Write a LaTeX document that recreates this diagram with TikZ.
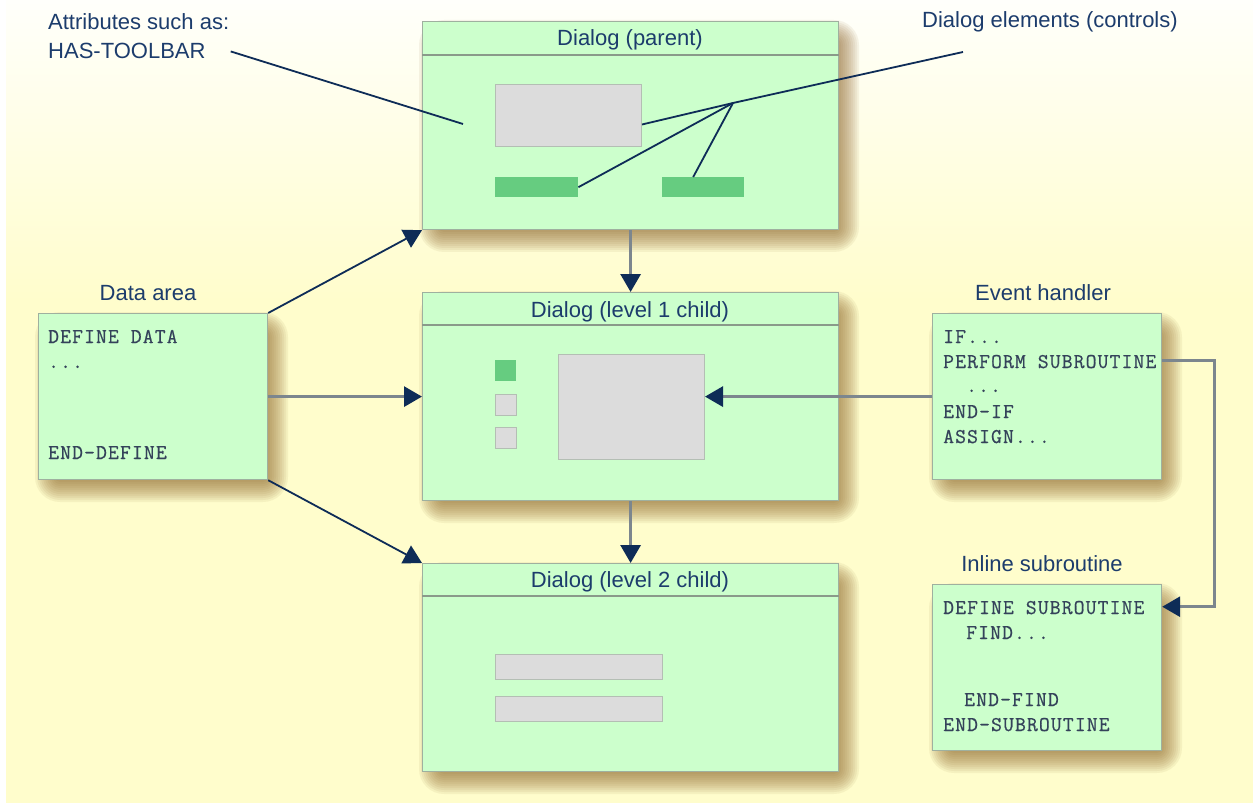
\documentclass[tikz,border=0pt]{standalone}
\usepackage{fontspec}
\setmainfont{Liberation Sans}
\newfontfamily\codefont{Latin Modern Mono}[LetterSpace=5.5,FakeBold=0.6]
\usetikzlibrary{arrows.meta,calc}
\definecolor{bgyel}{HTML}{FFFDCC}
\definecolor{bgtop}{HTML}{FFFFFB}
\definecolor{boxfill}{HTML}{CCFFCC}
\definecolor{boxborder}{HTML}{9FB09F}
\definecolor{hdrline}{HTML}{8A9A8A}
\definecolor{navy}{HTML}{0E2C57}
\definecolor{titlecol}{HTML}{1C3C6C}
\definecolor{codecol}{HTML}{34425A}
\definecolor{shaftgrey}{HTML}{7C868E}
\definecolor{ctrlgreen}{HTML}{66CC80}
\definecolor{ctrlgrey}{HTML}{DCDCDC}
\definecolor{ctrlborder}{HTML}{B4BEB4}
\definecolor{shadowcol}{RGB}{140,100,40}
\newcommand\boxshadow[4]{%
  \foreach \r in {-12,-10,...,12}{%
    \pgfmathsetmacro\rc{max(1,13-\r)}%
    \fill[shadowcol,opacity=0.08,rounded corners=\rc pt]
      (#1+9+\r,#2+11+\r) rectangle (#3+9-\r,#4+11-\r);
  }}
\tikzset{
  winbox/.style={draw=boxborder,line width=1.2pt,fill=boxfill,inner sep=0pt,anchor=north west},
  ctrlg/.style={draw=ctrlborder,line width=1pt,fill=ctrlgrey,inner sep=0pt,anchor=north west},
  ctrlgr/.style={draw=none,fill=ctrlgreen,inner sep=0pt,anchor=north west},
  hdr/.style={draw=hdrline,line width=1.2pt},
  title/.style={text=titlecol,font=\fontsize{22}{26}\selectfont,inner sep=0pt,anchor=base},
  lbl/.style={text=titlecol,font=\fontsize{22}{26}\selectfont,inner sep=0pt,anchor=base west},
  code/.style={text=codecol,font=\codefont\fontsize{21}{24}\selectfont,inner sep=0pt,anchor=base west},
  tipnavy/.style={-{Triangle[length=18pt,width=20pt,color=navy]}},
  conn/.style={draw=shaftgrey,line width=3pt,tipnavy},
  diag/.style={draw=navy,line width=1.8pt,tipnavy},
  pointer/.style={draw=navy,line width=1.8pt},
}
\begin{document}
\begin{tikzpicture}[x=1pt,y=-1pt]
\useasboundingbox (0,0) rectangle (1253,805);
% background
\fill[white] (0,0) rectangle (1253,805);
\shade[top color=bgtop,bottom color=bgyel] (6,0) rectangle (1253,301);
\fill[bgyel] (6,300) rectangle (1253,803);
% shadows
\boxshadow{422}{21}{838}{229}
\boxshadow{422}{292}{838}{500}
\boxshadow{422}{563}{838}{771}
\boxshadow{38}{313}{267}{479}
\boxshadow{932}{313}{1161}{479}
\boxshadow{932}{584}{1161}{750}
% dialog boxes
\node[winbox,minimum width=416pt,minimum height=208pt] (parent) at (422,21) {};
\draw[hdr] ([yshift=-34pt]parent.north west) -- ([yshift=-34pt]parent.north east);
\node[title] (ptitle) at (630,46) {Dialog (parent)};
\node[ctrlg,minimum width=146pt,minimum height=62pt] (pg) at (495,84) {};
\node[ctrlgr,minimum width=83pt,minimum height=20pt] (pb1) at (495,177) {};
\node[ctrlgr,minimum width=82pt,minimum height=20pt] (pb2) at (662,177) {};

\node[winbox,minimum width=416pt,minimum height=208pt] (l1) at (422,292) {};
\draw[hdr] ([yshift=-33pt]l1.north west) -- ([yshift=-33pt]l1.north east);
\node[title] (l1title) at (630,317) {Dialog (level 1 child)};
\node[ctrlgr,minimum width=21pt,minimum height=21pt] (sq1) at (495,360) {};
\node[ctrlg,minimum width=21pt,minimum height=21pt] (sq2) at (495,394) {};
\node[ctrlg,minimum width=21pt,minimum height=21pt] (sq3) at (495,427) {};
\node[ctrlg,minimum width=146pt,minimum height=105pt] (l1g) at (558,354) {};

\node[winbox,minimum width=416pt,minimum height=208pt] (l2) at (422,563) {};
\draw[hdr] ([yshift=-33pt]l2.north west) -- ([yshift=-33pt]l2.north east);
\node[title] (l2title) at (630,587) {Dialog (level 2 child)};
\node[ctrlg,minimum width=167pt,minimum height=25pt] (l2b1) at (495,654) {};
\node[ctrlg,minimum width=167pt,minimum height=25pt] (l2b2) at (495,696) {};

% data area
\node[title] (datitle) at (148,300) {Data area};
\node[winbox,minimum width=229pt,minimum height=166pt] (da) at (38,313) {};
\node[code] (da1) at (48,343) {DEFINE DATA};
\node[code] (da2) at (48,368) {...};
\node[code] (da3) at (48,459) {END-DEFINE};

% event handler
\node[title] (ehtitle) at (1043,300) {Event handler};
\node[winbox,minimum width=229pt,minimum height=166pt] (eh) at (932,313) {};
\node[code] (eh1) at (943,343) {IF...};
\node[code] (perf) at (943,368) {PERFORM SUBROUTINE};
\node[code] (eh3) at (966,392) {...};
\node[code] (eh4) at (943,418) {END-IF};
\node[code] (eh5) at (943,443) {ASSIGN...};

% inline subroutine
\node[title] (istitle) at (1042,571) {Inline subroutine};
\node[winbox,minimum width=229pt,minimum height=166pt] (is) at (932,584) {};
\node[code] (defsub) at (943,614) {DEFINE SUBROUTINE};
\node[code] (is2) at (966,639) {FIND...};
\node[code] (is3) at (964,706) {END-FIND};
\node[code] (is4) at (943,731) {END-SUBROUTINE};

% labels
\node[lbl] (attr) at (48,30) {Attributes such as:};
\node[lbl] (has) at (48,59) {HAS-TOOLBAR};
\node[lbl] (elems) at (922,28) {Dialog elements (controls)};
\coordinate (hub) at (733,103);
\coordinate (elemend) at (963,52);
\coordinate (attrin) at (463,124);

% pointer lines
\draw[pointer] ([xshift=25pt]has.east) -- (attrin);
\draw[pointer] (elemend) -- (hub);
\draw[pointer] (hub) -- ([yshift=-9pt]pg.east);
\draw[pointer] (hub) -- (pb1.east);
\draw[pointer] (hub) -- ([xshift=-10pt]pb2.north);

% connectors
\draw[conn] (parent.south) -- (l1.north);
\draw[conn] (l1.south) -- (l2.north);
\draw[conn] (da.east) -- (da.east -| l1.west);
\draw[conn] (eh.west) -- (eh.west -| l1g.east);
\draw[diag] (da.north east) -- (parent.south west);
\draw[diag] (da.south east) -- (l2.north west);
\draw[conn] ([yshift=-6pt]eh.east |- perf.north) -- ++(52,0) |- ([yshift=-6pt]is.east |- defsub.north);
\end{tikzpicture}
\end{document}
